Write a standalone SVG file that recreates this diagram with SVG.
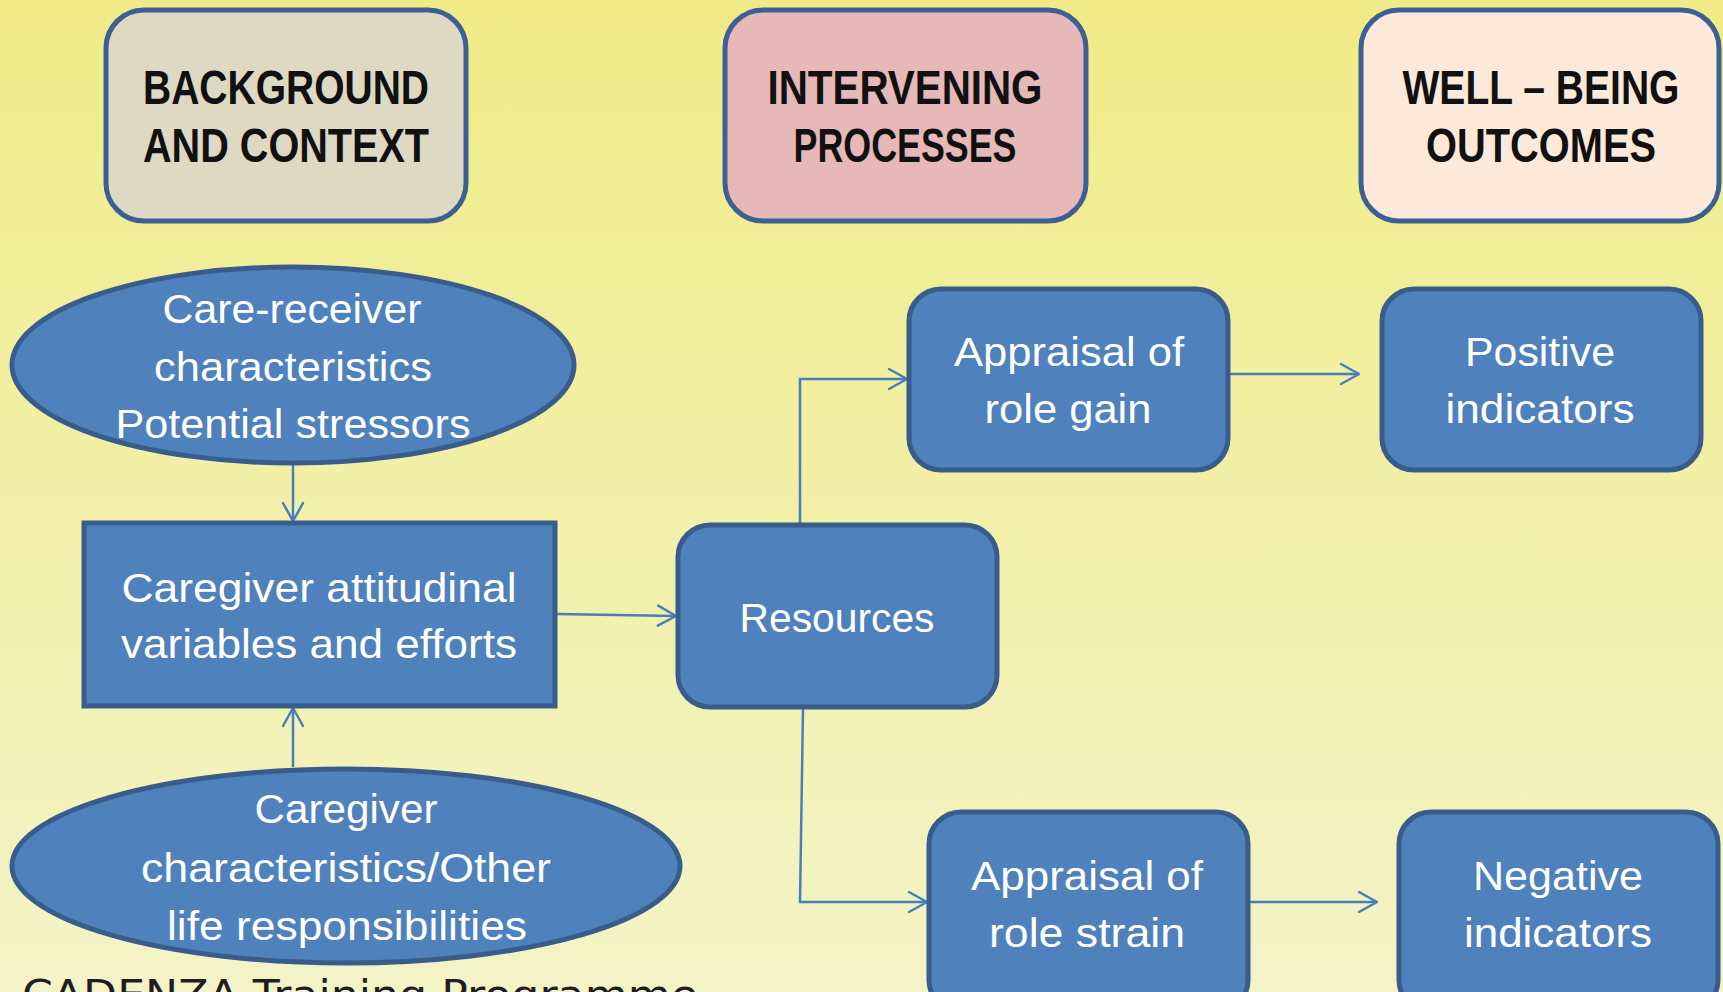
<svg xmlns="http://www.w3.org/2000/svg" width="1723" height="992" viewBox="0 0 1723 992">
<defs>
<linearGradient id="bg" x1="0" y1="0" x2="0" y2="1">
<stop offset="0" stop-color="#f0eb86"/>
<stop offset="0.5" stop-color="#f2f0a8"/>
<stop offset="1" stop-color="#f3f3c8"/>
</linearGradient>
<marker id="arr" markerUnits="userSpaceOnUse" viewBox="0 0 22 24" refX="20" refY="12" markerWidth="22" markerHeight="24" orient="auto">
<path d="M2,2 L20,12 L2,22" fill="none" stroke="#4a7ebb" stroke-width="2.5" stroke-linecap="round" stroke-linejoin="round"/>
</marker>
<style>
.hdr{stroke:#3c6094;stroke-width:5}
.node{fill:#4f81bd;stroke:#385d8a;stroke-width:5}
.ht{font-family:"Liberation Sans",Arial,sans-serif;font-weight:bold;font-size:48px;fill:#111;text-anchor:middle}
.bt{font-family:"Liberation Sans",Arial,sans-serif;font-size:41px;fill:#fff;text-anchor:middle}
.con{fill:none;stroke:#4a7ebb;stroke-width:2.5;marker-end:url(#arr)}
</style>
</defs>
<rect width="1723" height="992" fill="url(#bg)"/>

<g id="hdr-background">
<rect class="hdr" x="106" y="10" width="360" height="211" rx="38" fill="#ddd9c3"/>
<text class="ht" x="286" y="104" textLength="286" lengthAdjust="spacingAndGlyphs">BACKGROUND</text>
<text class="ht" x="286" y="162" textLength="286" lengthAdjust="spacingAndGlyphs">AND CONTEXT</text>
</g>
<g id="hdr-intervening">
<rect class="hdr" x="725" y="10" width="361" height="211" rx="38" fill="#e6b8b7"/>
<text class="ht" x="905" y="104" textLength="275" lengthAdjust="spacingAndGlyphs">INTERVENING</text>
<text class="ht" x="905" y="162" textLength="223" lengthAdjust="spacingAndGlyphs">PROCESSES</text>
</g>
<g id="hdr-wellbeing">
<rect class="hdr" x="1361" y="10" width="358" height="211" rx="38" fill="#fde9d9"/>
<text class="ht" x="1541" y="104" textLength="277" lengthAdjust="spacingAndGlyphs">WELL – BEING</text>
<text class="ht" x="1541" y="162" textLength="230" lengthAdjust="spacingAndGlyphs">OUTCOMES</text>
</g>

<g id="connectors">
<line class="con" x1="293" y1="465" x2="293" y2="521"/>
<line class="con" x1="293" y1="767" x2="293" y2="708"/>
<line class="con" x1="557" y1="614" x2="676" y2="616"/>
<polyline class="con" points="800,523 800,379 907,379"/>
<line class="con" x1="1230" y1="374" x2="1359" y2="374"/>
<polyline class="con" points="803,709 800,902 927,902"/>
<line class="con" x1="1249" y1="902" x2="1377" y2="902"/>
</g>

<g id="care-receiver">
<ellipse class="node" cx="293" cy="365" rx="281" ry="98"/>
<text class="bt" x="292" y="323" textLength="259" lengthAdjust="spacingAndGlyphs">Care-receiver</text>
<text class="bt" x="293" y="381" textLength="278" lengthAdjust="spacingAndGlyphs">characteristics</text>
<text class="bt" x="293" y="438" textLength="355" lengthAdjust="spacingAndGlyphs">Potential stressors</text>
</g>
<g id="caregiver-attitudinal">
<rect class="node" x="84" y="523" width="471" height="183"/>
<text class="bt" x="319" y="602" textLength="395" lengthAdjust="spacingAndGlyphs">Caregiver attitudinal</text>
<text class="bt" x="319" y="658" textLength="396" lengthAdjust="spacingAndGlyphs">variables and efforts</text>
</g>
<g id="caregiver-characteristics">
<ellipse class="node" cx="346" cy="866" rx="334" ry="97"/>
<text class="bt" x="346" y="823" textLength="183" lengthAdjust="spacingAndGlyphs">Caregiver</text>
<text class="bt" x="346" y="882" textLength="410" lengthAdjust="spacingAndGlyphs">characteristics/Other</text>
<text class="bt" x="347" y="940" textLength="360" lengthAdjust="spacingAndGlyphs">life responsibilities</text>
</g>
<g id="resources">
<rect class="node" x="678" y="525" width="319" height="182" rx="32"/>
<text class="bt" x="837" y="632" textLength="195" lengthAdjust="spacingAndGlyphs">Resources</text>
</g>
<g id="role-gain">
<rect class="node" x="909" y="289" width="319" height="181" rx="32"/>
<text class="bt" x="1069" y="366" textLength="230" lengthAdjust="spacingAndGlyphs">Appraisal of</text>
<text class="bt" x="1068" y="423" textLength="167" lengthAdjust="spacingAndGlyphs">role gain</text>
</g>
<g id="positive">
<rect class="node" x="1382" y="289" width="319" height="181" rx="32"/>
<text class="bt" x="1540" y="366" textLength="150" lengthAdjust="spacingAndGlyphs">Positive</text>
<text class="bt" x="1540" y="423" textLength="189" lengthAdjust="spacingAndGlyphs">indicators</text>
</g>
<g id="role-strain">
<rect class="node" x="929" y="812" width="319" height="200" rx="32"/>
<text class="bt" x="1087" y="890" textLength="232" lengthAdjust="spacingAndGlyphs">Appraisal of</text>
<text class="bt" x="1087" y="947" textLength="196" lengthAdjust="spacingAndGlyphs">role strain</text>
</g>
<g id="negative">
<rect class="node" x="1399" y="812" width="319" height="200" rx="32"/>
<text class="bt" x="1558" y="890" textLength="170" lengthAdjust="spacingAndGlyphs">Negative</text>
<text class="bt" x="1558" y="947" textLength="188" lengthAdjust="spacingAndGlyphs">indicators</text>
</g>

<text x="22" y="1009" font-family="DejaVu Sans, sans-serif" font-size="40" fill="#1e1e1e" textLength="676" lengthAdjust="spacingAndGlyphs">CADENZA Training Programme</text>
</svg>
